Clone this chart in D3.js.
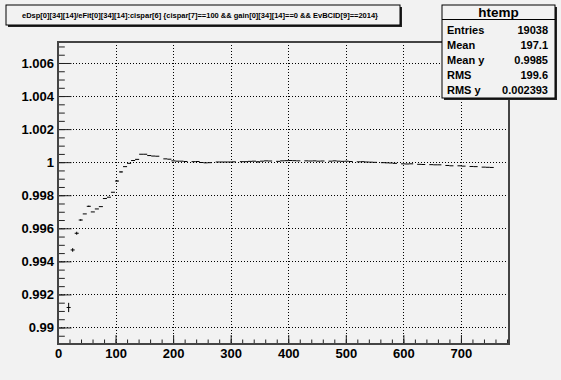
<!DOCTYPE html>
<html>
<head>
<meta charset="utf-8">
<script src="https://cdn.jsdelivr.net/npm/d3@7"></script>
<style>
body { margin: 0; background: #f2f2f2; }
svg { display: block; font-family: "Liberation Sans", Arial, Helvetica, sans-serif; font-weight: bold; }
</style>
</head>
<body>
<div id="chart"></div>
<script>
// profile bins: lower edge of first bin and width (cispar[6] units)
var binStart = 15;
var binWidth = 7;

// mean ratio per bin (null = empty bin)
var means = [
	0.99121, 0.99469, 0.99570, 0.99650, 0.99687, 0.99733, 0.99699, 0.99717, 0.99731, 0.99780,
	0.99788, 0.99818, 0.99886, 0.99941, 0.99973, 0.99993, 1.00010, 1.00017, 1.00048, 1.00048,
	1.00040, 1.00037, 1.00036, null,    1.00020, 1.00018, 1.00008, 1.00006, 1.00006, 1.00004,
	null,    1.00003, 1.00004, 0.99998, 0.99996, 0.99997, null,    1.00001, 1.00001, 1.00001,
	1.00001, 1.00002, null,    1.00003, 1.00003, 1.00005, 1.00006, 1.00002, 1.00006, 1.00008,
	1.00007, null,    1.00005, 1.00008, 1.00009, 1.00010, 1.00009, 1.00008, null,    1.00008,
	1.00007, 1.00008, 1.00006, 1.00007, null,    1.00006, 1.00008, 1.00006, 1.00005, 1.00006,
	1.00004, null,    1.00002, 1.00003, 1.00001, 1.00000, 0.99999, null,    0.99997, 0.99996,
	0.99995, 0.99993, null,    0.99990, 0.99989, 0.99990, null,    0.99987, 0.99986, null,
	0.99985, 0.99984, 0.99984, null,    0.99980, 0.99978, null,    0.99978, 0.99976, null,
	0.99974, 0.99973, null,    0.99970, 0.99969, 0.99968
];

// error on the mean per bin
var errs = [
	0.00028, 0.00011, 0.00009, 0.00005, 0.00003, 0.00004, 0.00003, 0.00003, 0.00003, 0.00003,
	0.00003, 0.00003, 0.00004, 0.00004, 0.00003, 0.00003, 0.00003, 0.00002, 0.00002, 0.00002,
	0.00002, 0.00002, 0.00002, 0,       0.00002, 0.00002, 0.00002, 0.00002, 0.00002, 0.00002,
	0,       0.00002, 0.00003, 0.00002, 0.00002, 0.00002, 0,       0.00002, 0.00002, 0.00002,
	0.00002, 0.00002, 0,       0.00002, 0.00003, 0.00002, 0.00002, 0.00004, 0.00002, 0.00002,
	0.00002, 0,       0.00002, 0.00002, 0.00003, 0.00002, 0.00002, 0.00002, 0,       0.00002,
	0.00002, 0.00002, 0.00002, 0.00002, 0,       0.00002, 0.00002, 0.00003, 0.00002, 0.00002,
	0.00002, 0,       0.00002, 0.00002, 0.00002, 0.00002, 0.00002, 0,       0.00002, 0.00002,
	0.00002, 0.00002, 0,       0.00002, 0.00002, 0.00003, 0,       0.00002, 0.00002, 0,
	0.00002, 0.00002, 0.00002, 0,       0.00002, 0.00002, 0,       0.00002, 0.00002, 0,
	0.00002, 0.00002, 0,       0.00002, 0.00002, 0.00002
];

var xTicks = [0, 100, 200, 300, 400, 500, 600, 700];
var yTicks = [0.990, 0.992, 0.994, 0.996, 0.998, 1.000, 1.002, 1.004, 1.006];

var titleText = "eDsp[0][34][14]/eFit[0][34][14]:cispar[6] {cispar[7]==100 && gain[0][34][14]==0 && EvBCID[9]==2014}";
var statsName = "htemp";
var statsLabels = ["Entries", "Mean", "Mean y", "RMS", "RMS y"];
var statsValues = ["19038", "197.1", "0.9985", "199.6", "0.002393"];

var W = 561, H = 380;
var frame = { left: 58, top: 42, right: 509, bottom: 344 };

var svg = d3.select("#chart").append("svg")
	.attr("width", W)
	.attr("height", H);

svg.append("rect").attr("width", W).attr("height", H).attr("fill", "#f2f2f2");

var x = d3.scaleLinear().domain([0, 783.5]).range([frame.left, frame.right]);
var y = d3.scaleLinear().domain([0.989, 1.00727]).range([frame.bottom, frame.top]);

// grid
var grid = svg.append("g")
	.attr("stroke", "#000")
	.attr("stroke-width", 1)
	.attr("stroke-dasharray", "1,2");
grid.selectAll("line.gx")
	.data(xTicks.filter(function (d) { return d > 0; }))
	.enter().append("line")
	.attr("x1", function (d) { return Math.round(x(d)) + 0.5; })
	.attr("x2", function (d) { return Math.round(x(d)) + 0.5; })
	.attr("y1", frame.top)
	.attr("y2", frame.bottom);
grid.selectAll("line.gy")
	.data(yTicks)
	.enter().append("line")
	.attr("y1", function (d) { return Math.round(y(d)) + 0.5; })
	.attr("y2", function (d) { return Math.round(y(d)) + 0.5; })
	.attr("x1", frame.left)
	.attr("x2", frame.right);

// axes, ticks point into the frame
var yMinor = d3.range(0.9890, 1.00727, 0.0005);
var xMinor = d3.range(0, 783.5, 20);

svg.append("g")
	.attr("transform", "translate(" + frame.left + ",0)")
	.call(d3.axisLeft(y).tickValues(yMinor).tickSize(-6.8).tickFormat(""));
svg.append("g")
	.attr("class", "yaxis")
	.attr("transform", "translate(" + frame.left + ",0)")
	.call(d3.axisLeft(y).tickValues(yTicks).tickSize(-13.5).tickPadding(4)
		.tickFormat(d3.format(".3~f")));
svg.append("g")
	.attr("transform", "translate(0," + frame.bottom + ")")
	.call(d3.axisBottom(x).tickValues(xMinor).tickSize(-4.5).tickFormat(""));
svg.append("g")
	.attr("class", "xaxis")
	.attr("transform", "translate(0," + frame.bottom + ")")
	.call(d3.axisBottom(x).tickValues(xTicks).tickSize(-9).tickPadding(5));

svg.selectAll(".domain").remove();
svg.selectAll(".tick line").attr("stroke", "#222");
svg.selectAll(".yaxis text, .xaxis text")
	.attr("fill", "#000")
	.style("font-size", "13px")
	.style("font-weight", "bold")
	.style("font-family", "'Liberation Sans', Arial, sans-serif");

// profile points
var bins = means.map(function (m, i) {
	return { c: binStart + binWidth * (i + 0.5), m: m, e: errs[i] };
}).filter(function (d) { return d.m !== null; });

svg.append("clipPath").attr("id", "clip")
	.append("rect")
	.attr("x", frame.left).attr("y", frame.top)
	.attr("width", frame.right - frame.left).attr("height", frame.bottom - frame.top);

var pts = svg.append("g").attr("clip-path", "url(#clip)").attr("stroke", "#000").attr("stroke-width", 1);
pts.selectAll("line.h")
	.data(bins)
	.enter().append("line")
	.attr("x1", function (d) { return x(d.c - binWidth / 2); })
	.attr("x2", function (d) { return x(d.c + binWidth / 2); })
	.attr("y1", function (d) { return y(d.m); })
	.attr("y2", function (d) { return y(d.m); });
pts.selectAll("line.v")
	.data(bins.filter(function (d) { return d.e > 0.00003; }))
	.enter().append("line")
	.attr("x1", function (d) { return x(d.c); })
	.attr("x2", function (d) { return x(d.c); })
	.attr("y1", function (d) { return y(d.m - d.e); })
	.attr("y2", function (d) { return y(d.m + d.e); });

// frame
svg.append("rect")
	.attr("x", frame.left).attr("y", frame.top)
	.attr("width", frame.right - frame.left).attr("height", frame.bottom - frame.top)
	.attr("fill", "none")
	.attr("stroke", "#444")
	.attr("stroke-width", 2);

// title pave
svg.append("rect").attr("x", 8).attr("y", 7).attr("width", 394).attr("height", 20).attr("fill", "#222");
svg.append("rect").attr("x", 6).attr("y", 5).attr("width", 394).attr("height", 20)
	.attr("fill", "#f2f2f2").attr("stroke", "#000").attr("stroke-width", 1);
svg.append("text")
	.attr("x", 200).attr("y", 18)
	.attr("text-anchor", "middle")
	.attr("textLength", 356)
	.attr("lengthAdjust", "spacingAndGlyphs")
	.style("font-size", "7.5px")
	.text(titleText);

// stats box
var sb = { x: 442, y: 5, w: 113, h: 93 };
svg.append("rect").attr("x", sb.x + 2).attr("y", sb.y + 2).attr("width", sb.w).attr("height", sb.h).attr("fill", "#222");
svg.append("rect").attr("x", sb.x).attr("y", sb.y).attr("width", sb.w).attr("height", sb.h)
	.attr("fill", "#f2f2f2").attr("stroke", "#000").attr("stroke-width", 1);
svg.append("line")
	.attr("x1", sb.x).attr("x2", sb.x + sb.w)
	.attr("y1", 19.5).attr("y2", 19.5)
	.attr("stroke", "#000");
svg.append("text")
	.attr("x", sb.x + sb.w / 2).attr("y", 17)
	.attr("text-anchor", "middle")
	.style("font-size", "13.5px")
	.text(statsName);
svg.selectAll("text.slab")
	.data(statsLabels)
	.enter().append("text")
	.attr("x", sb.x + 5)
	.attr("y", function (d, i) { return 33.5 + i * 15; })
	.style("font-size", "11px")
	.text(function (d) { return d; });
svg.selectAll("text.sval")
	.data(statsValues)
	.enter().append("text")
	.attr("x", sb.x + sb.w - 7)
	.attr("y", function (d, i) { return 33.5 + i * 15; })
	.attr("text-anchor", "end")
	.style("font-size", "11px")
	.text(function (d) { return d; });
</script>
</body>
</html>
